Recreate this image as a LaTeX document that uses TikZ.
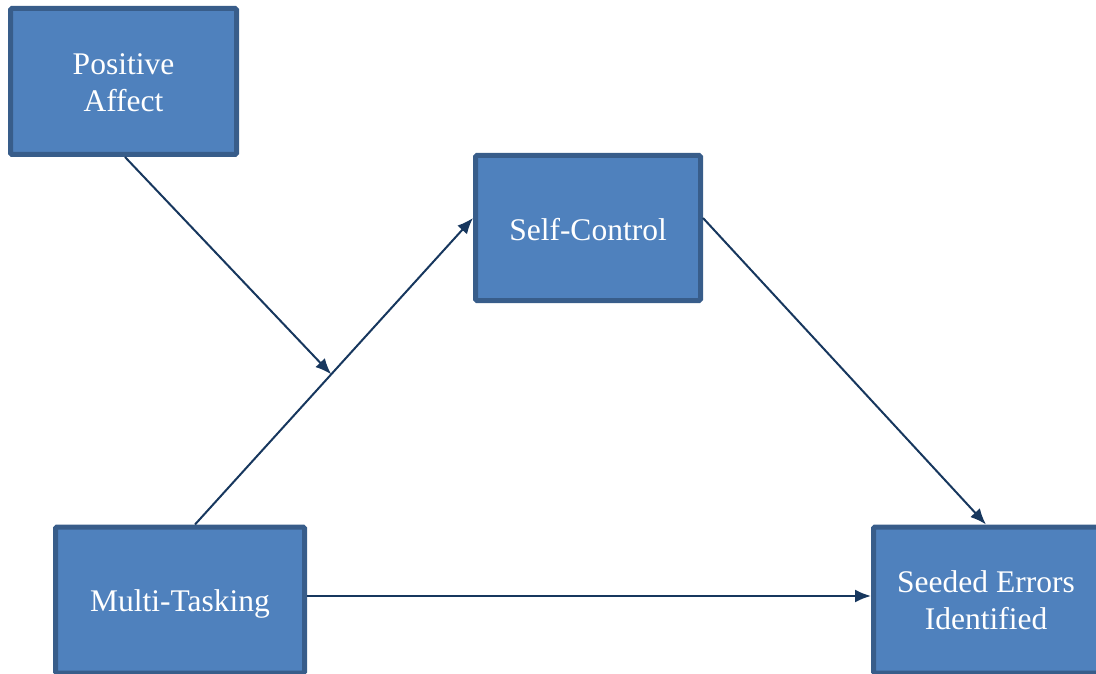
\documentclass[tikz,border=0pt]{standalone}
\usepackage{fontspec}
\setmainfont{Liberation Serif}
\usetikzlibrary{arrows.meta,calc}
\definecolor{boxfill}{HTML}{4F81BD}
\definecolor{boxline}{HTML}{385D8A}
\definecolor{arrowc}{HTML}{17375E}
\tikzset{
  box/.style={draw=boxline, fill=boxfill, line width=5pt, rounded corners=1.5pt,
    text=white, align=center, inner sep=0pt,
    font=\fontsize{31.5pt}{37pt}\selectfont},
  conn/.style={draw=arrowc, line width=2pt, -{Latex[length=16pt,width=13pt]}}
}
\begin{document}
\begin{tikzpicture}[x=1pt,y=1pt]
\useasboundingbox (0,0) rectangle (1096,-674);
\node[box, minimum width=226pt, minimum height=146pt] (pa) at (123.5,-81.5) {\raisebox{-1.5pt}[\height][\depth]{Positive}\\\raisebox{-1.5pt}[\height][\depth]{Affect}};
\node[box, minimum width=225pt, minimum height=145pt] (sc) at (588,-228) {\raisebox{-2pt}[\height][\depth]{Self-Control}};
\node[box, minimum width=249pt, minimum height=146pt] (mt) at (180,-600) {\raisebox{-4pt}[\height][\depth]{Multi-Tasking}};
\node[box, minimum width=225pt, minimum height=146pt] (se) at (986,-600) {Seeded Errors\\Identified};
\coordinate (mtstart) at ([xshift=15pt]mt.north);
\coordinate (scend) at ([yshift=10pt]sc.west);
\draw[conn] (mtstart) -- (scend);
\coordinate (mid) at ($(mtstart)!0.49!(scend)$);
\draw[conn] ([xshift=1.5pt]pa.south) -- (mid);
\draw[conn] ([yshift=10pt]sc.east) -- (se.north);
\draw[conn] ([yshift=4pt]mt.east) -- ([yshift=4pt]se.west);
\end{tikzpicture}
\end{document}
